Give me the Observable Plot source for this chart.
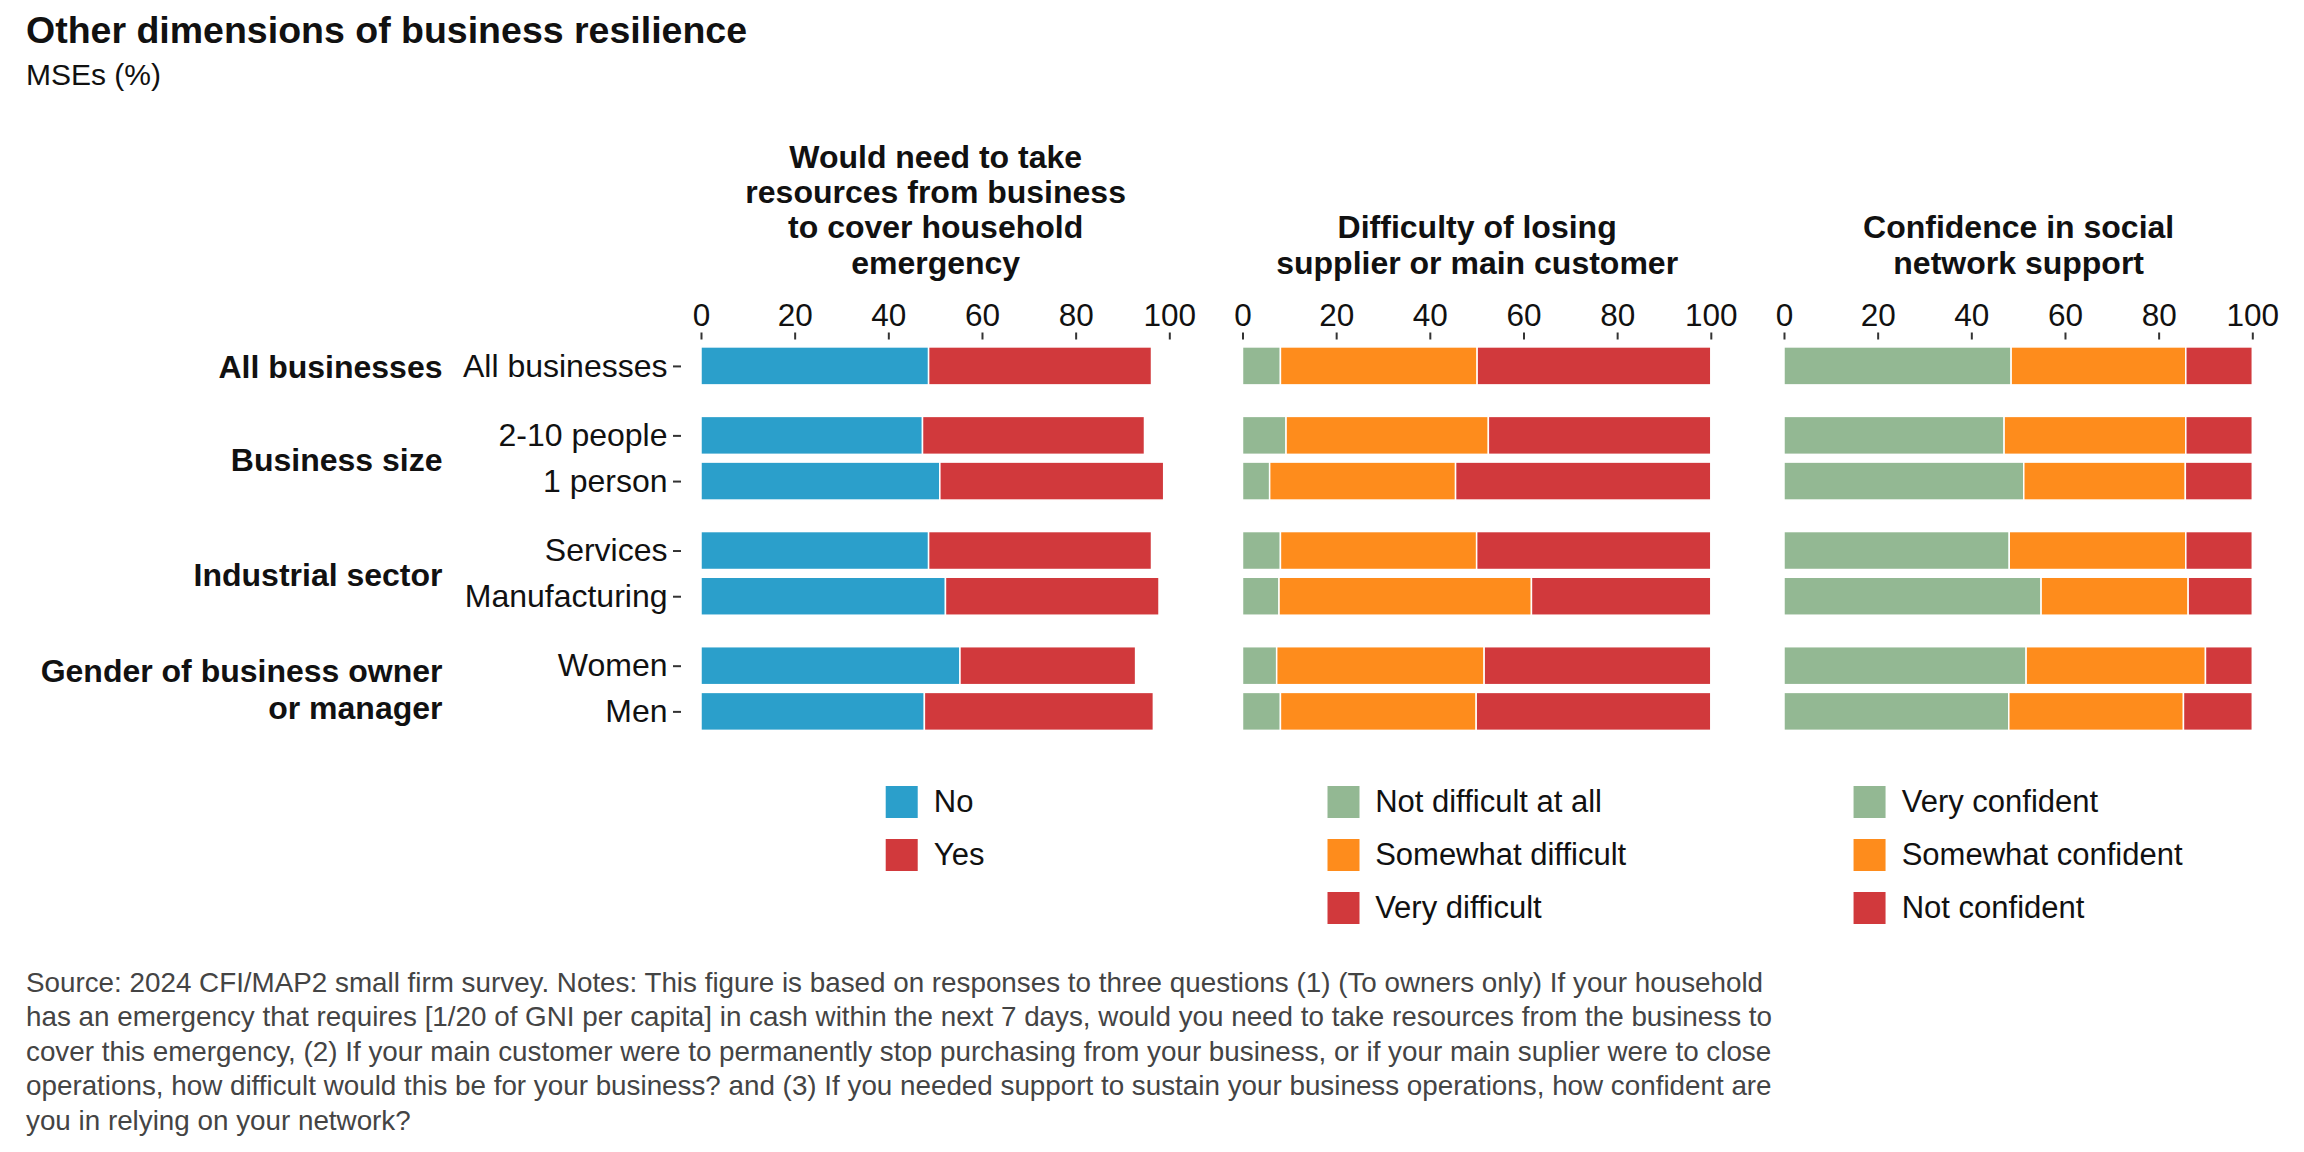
<!DOCTYPE html>
<html><head><meta charset="utf-8">
<script src="https://cdn.jsdelivr.net/npm/d3@7"></script>
<script src="https://cdn.jsdelivr.net/npm/@observablehq/plot@0.6"></script>
<style>
html,body{margin:0;padding:0;background:#fff;}
#page{position:relative;width:2304px;height:1152px;font-family:"Liberation Sans",Arial,Helvetica,sans-serif;color:#111;overflow:hidden;background:#fff;}
#title{position:absolute;left:26px;top:10.5px;font-size:37.5px;line-height:38px;font-weight:bold;white-space:nowrap;}
#subtitle{position:absolute;left:26px;top:60px;font-size:30px;line-height:30px;white-space:nowrap;}
#chart{position:absolute;left:0;top:95px;}
.legend{position:absolute;top:786px;transform:translateX(-50%);}
.item{display:flex;align-items:center;height:32px;margin-bottom:21px;font-size:31px;white-space:nowrap;}
.key{width:32px;height:32px;margin-right:16px;flex:none;}
#caption{position:absolute;left:26px;top:966px;font-size:27.8px;line-height:34.4px;color:#444;white-space:pre;}
</style></head>
<body>
<div id="page">
  <div id="title">Other dimensions of business resilience</div>
  <div id="subtitle">MSEs (%)</div>
  <div id="chart"></div>
  <div id="legends"></div>
  <div id="caption"></div>
</div>
<script>
// ---- data ----
const panels = ["resources", "supplier", "network"];
const panelTitles = [
  "Would need to take\nresources from business\nto cover household\nemergency",
  "Difficulty of losing\nsupplier or main customer",
  "Confidence in social\nnetwork support"
];
const categories = ["All businesses", "2-10 people", "1 person", "Services", "Manufacturing", "Women", "Men"];
const groupNames = ["All businesses", "Business size", "Industrial sector", "Gender of business owner\nor manager"];
const rowGroup = [0, 1, 1, 2, 2, 3, 3];

const seriesNames = [
  ["No", "Yes"],
  ["Not difficult at all", "Somewhat difficult", "Very difficult"],
  ["Very confident", "Somewhat confident", "Not confident"]
];
const seriesColors = [
  ["#2b9fcb", "#d1393c"],
  ["#93b893", "#fe8c1c", "#d1393c"],
  ["#93b893", "#fe8c1c", "#d1393c"]
];

// Panel 1: would need to take resources from business
const resNo  = [48.6, 47.3, 51.0, 48.6, 52.2, 55.3, 47.7];
const resYes = [47.6, 47.4, 47.8, 47.6, 45.6, 37.5, 48.9];
// Panel 2: difficulty of losing supplier or main customer
const notDifficult      = [8.1, 9.3, 5.8, 8.1, 7.8, 7.3, 8.1];
const somewhatDifficult = [42.0, 43.2, 39.7, 41.9, 53.9, 44.3, 41.8];
const veryDifficult     = [49.9, 47.5, 54.5, 50.0, 38.3, 48.4, 50.1];
// Panel 3: confidence in social network support
const veryConfident     = [48.5, 47.0, 51.2, 48.1, 54.9, 51.7, 48.0];
const somewhatConfident = [37.3, 38.8, 34.5, 37.7, 31.4, 38.3, 37.3];
const notConfident      = [14.2, 14.2, 14.3, 14.2, 13.7, 10.0, 14.7];

const tickValues = [0, 20, 40, 60, 80, 100];

const captionLines = [
  "Source: 2024 CFI/MAP2 small firm survey. Notes: This figure is based on responses to three questions (1) (To owners only) If your household",
  "has an emergency that requires [1/20 of GNI per capita] in cash within the next 7 days, would you need to take resources from the business to",
  "cover this emergency, (2) If your main customer were to permanently stop purchasing from your business, or if your main suplier were to close",
  "operations, how difficult would this be for your business? and (3) If you needed support to sustain your business operations, how confident are",
  "you in relying on your network?"
];

// ---- build ----
const panelValues = [[resNo, resYes], [notDifficult, somewhatDifficult, veryDifficult], [veryConfident, somewhatConfident, notConfident]];
const groupGap = 0.52;
const pos = categories.map((c, i) => i + rowGroup[i] * groupGap);
const labelByPos = new Map(pos.map((p, i) => [p, categories[i]]));
const half = 0.4155;

const bars = [];
panels.forEach((panel, pi) => {
  categories.forEach((cat, ci) => {
    let acc = 0;
    panelValues[pi].forEach((vals, si) => {
      bars.push({panel, cat, pos: pos[ci], series: seriesNames[pi][si], x1: acc, x2: acc + vals[ci]});
      acc += vals[ci];
    });
  });
});

const groupPos = groupNames.map((g, gi) => d3.mean(pos.filter((p, i) => rowGroup[i] === gi)));
const fontFamily = '"Liberation Sans", Arial, Helvetica, sans-serif';

const chart = Plot.plot({
  width: 2304,
  height: 655,
  marginLeft: 681,
  marginRight: 31.7,
  marginTop: 243.5,
  marginBottom: 11.2,
  style: {fontFamily, fontSize: "32px", color: "#111", background: "white", overflow: "visible"},
  fx: {domain: panels, paddingInner: 0.0613, paddingOuter: 0, round: false, axis: null, label: null},
  x: {domain: [-4.27, 104.27], label: null},
  y: {domain: [8.16, -0.6], label: null},
  color: {domain: seriesNames.flat(), range: seriesColors.flat()},
  marks: [
    Plot.rect(bars, {
      fx: "panel", x1: "x1", x2: "x2",
      y1: d => d.pos - half, y2: d => d.pos + half,
      fill: "series", stroke: "white", strokeWidth: 1.5
    }),
    Plot.axisX({ticks: tickValues, anchor: "top", tickSize: 7, tickPadding: 6.5, fontSize: 31.5,
      stroke: "#333", strokeWidth: 2, fill: "#111", label: null, tickFormat: d3.format("d")}),
    Plot.axisY({ticks: pos, anchor: "left", tickSize: 8, tickPadding: 6, fontSize: 32,
      stroke: "#333", strokeWidth: 2, fill: "#111", label: null, tickFormat: p => labelByPos.get(p)}),
    Plot.text(panels, {
      fx: d => d, text: (d, i) => panelTitles[i],
      frameAnchor: "top", dy: -65.5, lineAnchor: "bottom", lineHeight: 1.1,
      fontWeight: "bold", fontSize: 32, textAnchor: "middle", fill: "#111"
    }),
    Plot.text(groupNames, {
      fx: () => panels[0], y: (d, i) => groupPos[i], text: d => d,
      frameAnchor: "left", textAnchor: "end", dx: -239, lineAnchor: "middle", lineHeight: 1.156,
      fontWeight: "bold", fontSize: 32, fill: "#111"
    })
  ]
});
document.getElementById("chart").appendChild(chart);

// ---- legends (one under each panel, centred on the panel via the fx scale) ----
const fx = chart.scale("fx");
const color = chart.scale("color");
const legendsEl = document.getElementById("legends");
panels.forEach((panel, pi) => {
  const lg = document.createElement("div");
  lg.className = "legend";
  lg.style.left = (fx.apply(panel) + fx.bandwidth / 2) + "px";
  seriesNames[pi].forEach(name => {
    const it = document.createElement("div");
    it.className = "item";
    const k = document.createElement("div");
    k.className = "key";
    k.style.background = color.apply(name);
    const t = document.createElement("span");
    t.textContent = name;
    it.appendChild(k); it.appendChild(t);
    lg.appendChild(it);
  });
  legendsEl.appendChild(lg);
});

document.getElementById("caption").textContent = captionLines.join("\n");
</script>
</body></html>
